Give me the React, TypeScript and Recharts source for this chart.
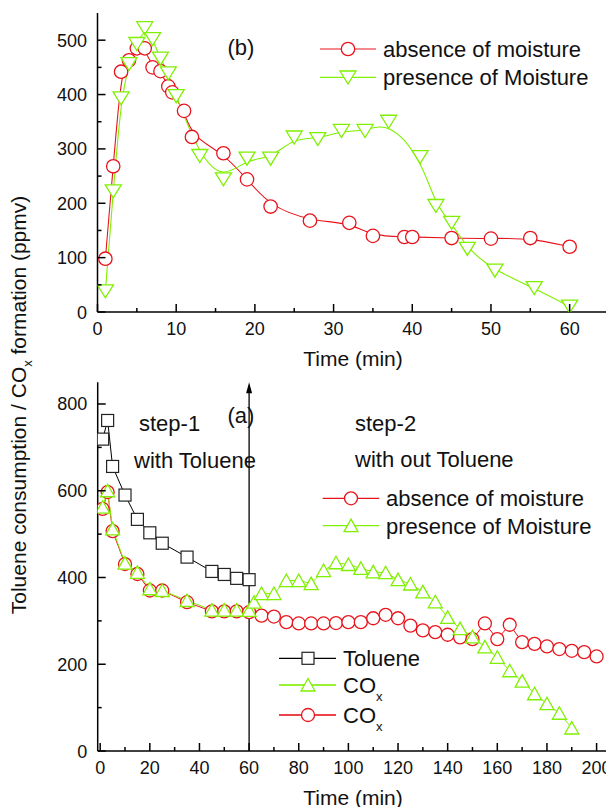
import React from 'react';
import { LineChart, Line, XAxis, YAxis, ReferenceLine } from 'recharts';

const RED = '#e8141c';
const GREEN = '#7ff000';
const FONT = '"Liberation Sans", Arial, Helvetica, sans-serif';

// ---- panel (b) ----
const bTimeAbsence = [1, 2, 3, 4, 5, 6, 7, 8, 9, 9.5, 11, 12, 16, 19, 22, 27, 32, 35, 39, 40, 45, 50, 55, 60];
const bAbsence = [98, 268, 442, 463, 485, 485, 450, 443, 415, 404, 370, 322, 292, 244, 194, 168, 164, 140, 138, 138, 136, 135, 136, 120];
const bTimePresence = [1, 2, 3, 4, 5, 6, 7, 8, 9, 10, 13, 16, 19, 22, 25, 28, 31, 34, 37, 41, 43, 45, 47, 50.5, 55.5, 60];
const bPresence = [38, 222, 393, 456, 493, 522, 502, 466, 439, 397, 287, 244, 282, 282, 321, 318, 333, 333, 350, 285, 195, 164, 116, 76, 44, 10];

// ---- panel (a) ----
const aTimeToluene = [1, 3, 5, 10, 15, 20, 25, 35, 45, 50, 55, 60];
const aToluene = [719, 762, 656, 590, 534, 503, 479, 447, 414, 407, 398, 395];
const aTimeAbsence = [1, 3, 5, 10, 15, 20, 25, 35, 45, 50, 55, 60, 65, 70, 75, 80, 85, 90, 95, 100, 105, 110, 115, 120, 125, 130, 135, 140, 145, 150, 155, 160, 165, 170, 175, 180, 185, 190, 195, 200];
const aAbsence = [558, 597, 507, 431, 408, 370, 370, 343, 322, 322, 322, 320, 312, 310, 297, 294, 294, 294, 295, 297, 297, 306, 314, 306, 289, 278, 274, 268, 262, 258, 294, 258, 291, 251, 247, 241, 235, 231, 228, 218];
const aTimePresence = [1, 3, 5, 10, 15, 20, 25, 35, 45, 50, 55, 60, 62, 65, 70, 75, 80, 85, 90, 95, 100, 105, 110, 115, 120, 125, 130, 135, 140, 145, 150, 155, 160, 165, 170, 175, 180, 185, 190];
const aPresence = [562, 600, 512, 433, 412, 374, 370, 347, 325, 325, 325, 324, 343, 363, 363, 393, 393, 386, 416, 434, 430, 421, 413, 411, 395, 385, 367, 344, 308, 282, 263, 240, 216, 185, 161, 132, 109, 87, 53];

// ---- ticks ----
const bXTicks = [0, 5, 10, 15, 20, 25, 30, 35, 40, 45, 50, 55, 60, 65];
const bYTicks = [0, 50, 100, 150, 200, 250, 300, 350, 400, 450, 500];
const aXTicks = [0, 10, 20, 30, 40, 50, 60, 70, 80, 90, 100, 110, 120, 130, 140, 150, 160, 170, 180, 190, 200];
const aYTicks = [0, 100, 200, 300, 400, 500, 600, 700, 800];

const zip = (xs: number[], ys: number[]) => xs.map((t, i) => ({ t, v: ys[i] }));

const bAbsenceData = zip(bTimeAbsence, bAbsence);
const bPresenceData = zip(bTimePresence, bPresence);
const aTolueneData = zip(aTimeToluene, aToluene);
const aAbsenceData = zip(aTimeAbsence, aAbsence);
const aPresenceData = zip(aTimePresence, aPresence);

const isMajor = (v: number, every: number) => Math.abs(v % every) < 1e-6;

const makeXTick = (every: number) => (props: any) => {
  const { x, y, payload } = props;
  const v = payload.value;
  const major = isMajor(v, every);
  return (
    <g>
      <line x1={x} y1={y} x2={x} y2={y - (major ? 8 : 4)} stroke="#000" strokeWidth={1.5} />
      {major && (
        <text x={x} y={y + 23} textAnchor="middle" fontSize={18} fontFamily={FONT} fill="#111">
          {v}
        </text>
      )}
    </g>
  );
};

const makeYTick = (every: number) => (props: any) => {
  const { x, y, payload } = props;
  const v = payload.value;
  const major = isMajor(v, every);
  return (
    <g>
      <line x1={x} y1={y} x2={x + (major ? 8 : 4)} y2={y} stroke="#000" strokeWidth={1.5} />
      {major && (
        <text x={x - 10.5} y={y + 6.5} textAnchor="end" fontSize={18} fontFamily={FONT} fill="#111">
          {v}
        </text>
      )}
    </g>
  );
};

const circleDot = (r: number, color: string) => (p: any) => (
  <circle key={`c${p.index}`} cx={p.cx} cy={p.cy} r={r} fill="#fff" stroke={color} strokeWidth={1.3} />
);
const downTriDot = (color: string) => (p: any) => (
  <polygon
    key={`d${p.index}`}
    points={`${p.cx - 8},${p.cy - 6.5} ${p.cx + 8},${p.cy - 6.5} ${p.cx},${p.cy + 6.5}`}
    fill="#fff"
    stroke={color}
    strokeWidth={1.3}
  />
);
const upTriDot = (color: string) => (p: any) => (
  <polygon
    key={`u${p.index}`}
    points={`${p.cx - 7},${p.cy + 6} ${p.cx + 7},${p.cy + 6} ${p.cx},${p.cy - 6.5}`}
    fill="#fff"
    stroke={color}
    strokeWidth={1.3}
  />
);
const squareDot = (color: string) => (p: any) => (
  <rect key={`s${p.index}`} x={p.cx - 6} y={p.cy - 6} width={12} height={12} fill="#fff" stroke={color} strokeWidth={1.2} />
);

const arrowShape = (p: any) => {
  const { x1, y1, x2, y2 } = p;
  const top = Math.min(y1, y2);
  const bottom = Math.max(y1, y2);
  return (
    <g>
      <line x1={x1} y1={top + 4} x2={x2} y2={bottom} stroke="#000" strokeWidth={1.3} />
      <polygon points={`${x1},${top} ${x1 - 3},${top + 11} ${x1 + 3},${top + 11}`} fill="#000" />
    </g>
  );
};

const axisLineStyle = { stroke: '#000', strokeWidth: 1.5 };

const TopChart = () => (
  <LineChart width={640} height={370} margin={{ top: 13, right: 31, left: 0, bottom: 18 }}>
    <XAxis
      dataKey="t"
      type="number"
      domain={[0, 65]}
      allowDataOverflow
      ticks={bXTicks}
      interval={0}
      tickSize={0}
      tickMargin={0}
      tickLine={false}
      tick={makeXTick(10)}
      axisLine={axisLineStyle}
      height={40}
    />
    <XAxis
      xAxisId="top"
      orientation="top"
      type="number"
      domain={[0, 65]}
      height={0}
      tick={false}
      tickLine={false}
      axisLine={axisLineStyle}
    />
    <YAxis
      type="number"
      domain={[0, 550]}
      allowDataOverflow
      ticks={bYTicks}
      interval={0}
      tickSize={0}
      tickMargin={0}
      tickLine={false}
      tick={makeYTick(100)}
      axisLine={axisLineStyle}
      width={97.5}
    />
    <Line
      data={bAbsenceData}
      dataKey="v"
      type="basis"
      stroke={RED}
      strokeWidth={1.1}
      dot={circleDot(6.7, RED)}
      isAnimationActive={false}
    />
    <Line
      data={bPresenceData}
      dataKey="v"
      type="basis"
      stroke={GREEN}
      strokeWidth={1.1}
      dot={downTriDot(GREEN)}
      isAnimationActive={false}
    />
  </LineChart>
);

const BottomChart = () => (
  <LineChart width={640} height={437} margin={{ top: 12.3, right: 31, left: 0, bottom: 16 }}>
    <XAxis
      dataKey="t"
      type="number"
      domain={[-1, 205]}
      allowDataOverflow
      ticks={aXTicks}
      interval={0}
      tickSize={0}
      tickMargin={0}
      tickLine={false}
      tick={makeXTick(20)}
      axisLine={axisLineStyle}
      height={40}
    />
    <XAxis
      xAxisId="top"
      orientation="top"
      type="number"
      domain={[-1, 205]}
      height={0}
      tick={false}
      tickLine={false}
      axisLine={axisLineStyle}
    />
    <YAxis
      type="number"
      domain={[0, 850]}
      allowDataOverflow
      ticks={aYTicks}
      interval={0}
      tickSize={0}
      tickMargin={0}
      tickLine={false}
      tick={makeYTick(200)}
      axisLine={axisLineStyle}
      width={97.7}
    />
    <Line
      data={aTolueneData}
      dataKey="v"
      type="linear"
      stroke="#000"
      strokeWidth={1}
      dot={squareDot('#222')}
      isAnimationActive={false}
    />
    <Line
      data={aAbsenceData}
      dataKey="v"
      type="linear"
      stroke={RED}
      strokeWidth={1}
      dot={circleDot(6.5, RED)}
      isAnimationActive={false}
    />
    <Line
      data={aPresenceData}
      dataKey="v"
      type="linear"
      stroke={GREEN}
      strokeWidth={1}
      dot={upTriDot(GREEN)}
      isAnimationActive={false}
    />
    <ReferenceLine x={60} stroke="#000" shape={arrowShape} />
  </LineChart>
);

const txt = (x: number, y: number, s: React.ReactNode, size = 22, anchor: any = 'start') => (
  <text x={x} y={y} fontSize={size} fontFamily={FONT} fill="#111" textAnchor={anchor}>
    {s}
  </text>
);

const Overlay = () => (
  <svg width={606} height={807} style={{ position: 'absolute', left: 0, top: 0, pointerEvents: 'none' }}>
    {/* Y axis title */}
    <g transform="rotate(-90 18.5 405)">
      <text x={18.5} y={412.5} fontSize={21} fontFamily={FONT} fill="#111" textAnchor="middle">
        Toluene consumption / CO
        <tspan fontSize={13} dy={6}>x</tspan>
        <tspan dy={-6}> formation (ppmv)</tspan>
      </text>
    </g>
    {/* X axis titles */}
    {txt(353, 365.5, 'Time (min)', 21, 'middle')}
    {txt(353, 805, 'Time (min)', 21, 'middle')}

    {/* panel (b) annotations */}
    {txt(241, 55, '(b)', 22, 'middle')}
    <line x1={320} y1={49} x2={376} y2={49} stroke={RED} strokeWidth={1.2} />
    <circle cx={348} cy={49} r={6.7} fill="#fff" stroke={RED} strokeWidth={1.3} />
    {txt(383, 57, 'absence of moisture')}
    <line x1={320} y1={77.3} x2={376} y2={77.3} stroke={GREEN} strokeWidth={1.2} />
    <polygon points={`340,71 356,71 348,84`} fill="#fff" stroke={GREEN} strokeWidth={1.3} />
    {txt(383, 85.3, 'presence of Moisture')}

    {/* panel (a) annotations */}
    {txt(241, 423, '(a)', 22, 'middle')}
    {txt(139, 431, 'step-1')}
    {txt(134, 468, 'with Toluene')}
    {txt(355, 430.6, 'step-2')}
    {txt(355, 467, 'with out Toluene')}

    <line x1={322.7} y1={498.3} x2={379.3} y2={498.3} stroke={RED} strokeWidth={1.2} />
    <circle cx={351} cy={498.3} r={6.5} fill="#fff" stroke={RED} strokeWidth={1.3} />
    {txt(386, 506.3, 'absence of moisture')}
    <line x1={322.7} y1={525.7} x2={379.3} y2={525.7} stroke={GREEN} strokeWidth={1.2} />
    <polygon points={`344,531.7 358,531.7 351,519.2`} fill="#fff" stroke={GREEN} strokeWidth={1.3} />
    {txt(386, 533.7, 'presence of Moisture')}

    <line x1={279} y1={658.3} x2={336} y2={658.3} stroke="#000" strokeWidth={1.2} />
    <rect x={302} y={652.3} width={12} height={12} fill="#fff" stroke="#222" strokeWidth={1.2} />
    {txt(343, 666.3, 'Toluene')}
    <line x1={279} y1={685} x2={336} y2={685} stroke={GREEN} strokeWidth={2} opacity={0.8} />
    <polygon points={`301,691 315,691 308,678.5`} fill="#fff" stroke={GREEN} strokeWidth={1.3} />
    <text x={343} y={693} fontSize={22} fontFamily={FONT} fill="#111">
      CO<tspan fontSize={13} dy={8}>x</tspan>
    </text>
    <line x1={279} y1={715} x2={336} y2={715} stroke={RED} strokeWidth={2} opacity={0.8} />
    <circle cx={308} cy={715} r={6.5} fill="#fff" stroke={RED} strokeWidth={1.3} />
    <text x={343} y={723} fontSize={22} fontFamily={FONT} fill="#111">
      CO<tspan fontSize={13} dy={8}>x</tspan>
    </text>
  </svg>
);

export default function App() {
  return (
    <div style={{ position: 'fixed', left: 0, top: 0, width: 606, height: 807, overflow: 'hidden', background: '#fff' }}>
      <div style={{ position: 'absolute', left: 0, top: 0 }}>
        <TopChart />
      </div>
      <div style={{ position: 'absolute', left: 0, top: 370 }}>
        <BottomChart />
      </div>
      <Overlay />
    </div>
  );
}
